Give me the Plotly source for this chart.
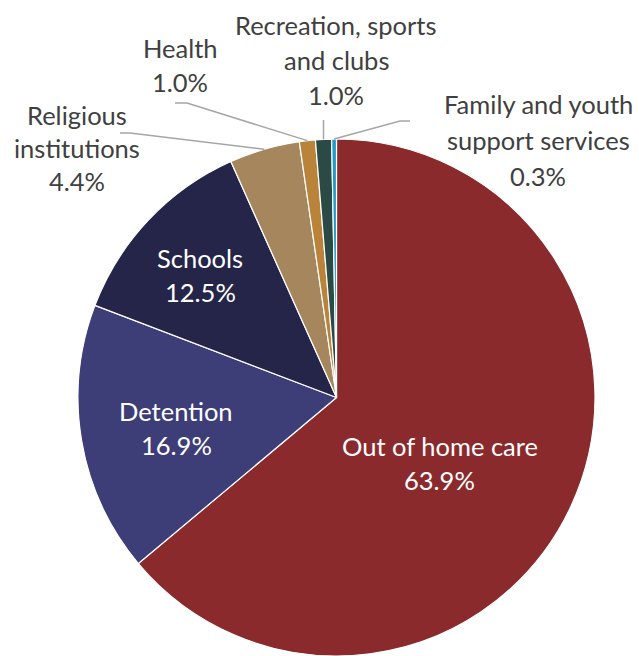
import math
import plotly.graph_objects as go

categories = ["Out of home care", "Detention", "Schools", "Religious institutions",
              "Health", "Recreation, sports and clubs", "Family and youth support services"]
values = [63.9, 16.9, 12.5, 4.4, 1.0, 1.0, 0.3]
colors = ["#8B2A2C", "#3D3D77", "#252549", "#A6875D", "#B9843A", "#2B4A45", "#1E9CC8"]

W, H = 639, 656
CX, CY, R = 336.5, 397.5, 258.5
FONT = "Lato"
FS = 25.5


def px(x):
    return x / W


def py(y):
    return 1 - y / H


fig = go.Figure(go.Pie(
    labels=categories, values=values, sort=False, direction="clockwise", rotation=0,
    marker=dict(colors=colors, line=dict(color="white", width=1.2)),
    textinfo="none", hoverinfo="label+percent", showlegend=False,
    domain=dict(x=[px(CX - R), px(CX + R)], y=[max(0, py(CY + R)), py(CY - R)]),
))

total = sum(values)
mids = []
acc = 0
for v in values:
    mids.append((acc + v / 2) / total * 360)
    acc += v


def edge(i):
    a = math.radians(mids[i])
    return CX + R * math.sin(a), CY - R * math.cos(a)


ann = []


def label(lines, x, y0, color, step=34):
    for k, t in enumerate(lines):
        ann.append(dict(text=t, x=px(x), y=py(y0 + k * step), xref="paper", yref="paper",
                        showarrow=False, xanchor="center", yanchor="middle",
                        font=dict(family=FONT, size=FS, color=color)))


pct = [f"{v:.1f}%" for v in values]
# inside labels
label(["Out of home care", pct[0]], 440, 446, "white")
label(["Detention", pct[1]], 176, 411, "white")
label(["Schools", pct[2]], 200, 258, "white")
# outside labels
grey = "#404040"
label(["Religious", "institutions", pct[3]], 77, 115, grey, step=33)
label(["Health", pct[4]], 180, 48, grey)
label(["Recreation, sports", "and clubs", pct[5]], 336, 25, grey, step=35)
label(["Family and youth", "support services", pct[6]], 538, 104, grey, step=36)

shapes = []


def leader(i, pts):
    sx, sy = edge(i)
    path = f"M{px(sx)},{py(sy)}" + "".join(f" L{px(a)},{py(b)}" for a, b in pts)
    shapes.append(dict(type="path", path=path, xref="paper", yref="paper",
                       line=dict(color="#A6A6A6", width=1.5)))


leader(3, [(130, 133), (120, 133)])
leader(4, [(187, 103), (175, 103)])
sx5, _ = edge(5)
leader(5, [(sx5, 120)])
leader(6, [(400, 121), (410, 121)])

fig.update_layout(width=W, height=H, margin=dict(l=0, r=0, t=0, b=0),
                  paper_bgcolor="white", plot_bgcolor="white",
                  annotations=ann, shapes=shapes)

fig.write_html("out.html")
